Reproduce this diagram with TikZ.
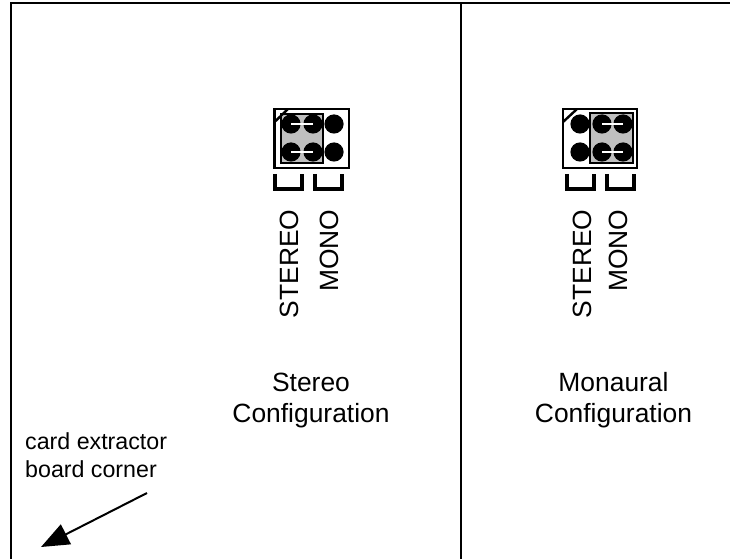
\documentclass[tikz,border=0pt]{standalone}
\usepackage{fontspec}
\setmainfont{Liberation Sans}
\usetikzlibrary{arrows.meta}
\tikzset{
 x=1bp,y=-1bp,
 frameline/.style={line width=2.6bp,black},
 outerbox/.style={line width=2.4bp,black},
 greybox/.style={draw=black,line width=2.4bp,fill=black!25},
 pin/.style={fill=black},
 bar/.style={draw=white,line width=2.4bp},
 brk/.style={line width=3.2bp,black},
 lab/.style={font=\fontsize{26.5}{31}\selectfont,align=center,inner sep=0pt},
 vlab/.style={font=\fontsize{26.5}{31}\selectfont,inner sep=0pt,rotate=90,anchor=base east},
 small/.style={font=\fontsize{23.3}{28}\selectfont,align=left,inner sep=0pt,anchor=west},
}
\begin{document}
\begin{tikzpicture}
\useasboundingbox (0,0) rectangle (730,559);
\fill[white] (0,0) rectangle (730,559);
% frame
\draw[frameline] (11,559) -- (11,3) -- (730,3);
\draw[frameline] (461,3) -- (461,559);
% left jumper
\draw[outerbox] (274.5,109) rectangle (349,168);
\draw[greybox] (281,114) rectangle (323,163);
\draw[outerbox] (274.5,122) -- (288,109);
\foreach \x in {291,313,334} \foreach \y in {124,152} \fill[pin] (\x,\y) circle (9.6);
\draw[bar] (291,124) -- (313,124);
\draw[bar] (291,152) -- (313,152);
\draw[brk] (275,174) -- (275,189) -- (302,189) -- (302,174);
\draw[brk] (315,174) -- (315,189) -- (342,189) -- (342,174);
% right jumper
\draw[outerbox] (563,109) rectangle (637,168);
\draw[greybox] (590,113) rectangle (633,163);
\draw[outerbox] (563,122) -- (577,109);
\foreach \x in {580,602,623} \foreach \y in {124,152} \fill[pin] (\x,\y) circle (9.6);
\draw[bar] (602,124) -- (623,124);
\draw[bar] (602,152) -- (623,152);
\draw[brk] (567,174) -- (567,189) -- (594,189) -- (594,174);
\draw[brk] (607,174) -- (607,189) -- (634,189) -- (634,174);
% labels
\node[vlab] (s1) at (298,209.5) {STEREO};
\node[vlab] (m1) at (338,209.5) {MONO};
\node[vlab] (s2) at (591,209.5) {STEREO};
\node[vlab] (m2) at (627,209.5) {MONO};
\node[lab] (c1) at (311,400.5) {Stereo\\Configuration};
\node[lab] (c2) at (613.5,400.5) {Monaural\\Configuration};
\node[small] (e) at (25,455) {card extractor\\board corner};
% arrow
\coordinate (a) at (147,493);
\coordinate (b) at (41,547);
\draw[line width=2bp,-{Triangle[length=28bp,width=22bp]}] (a) -- (b);
\end{tikzpicture}
\end{document}
